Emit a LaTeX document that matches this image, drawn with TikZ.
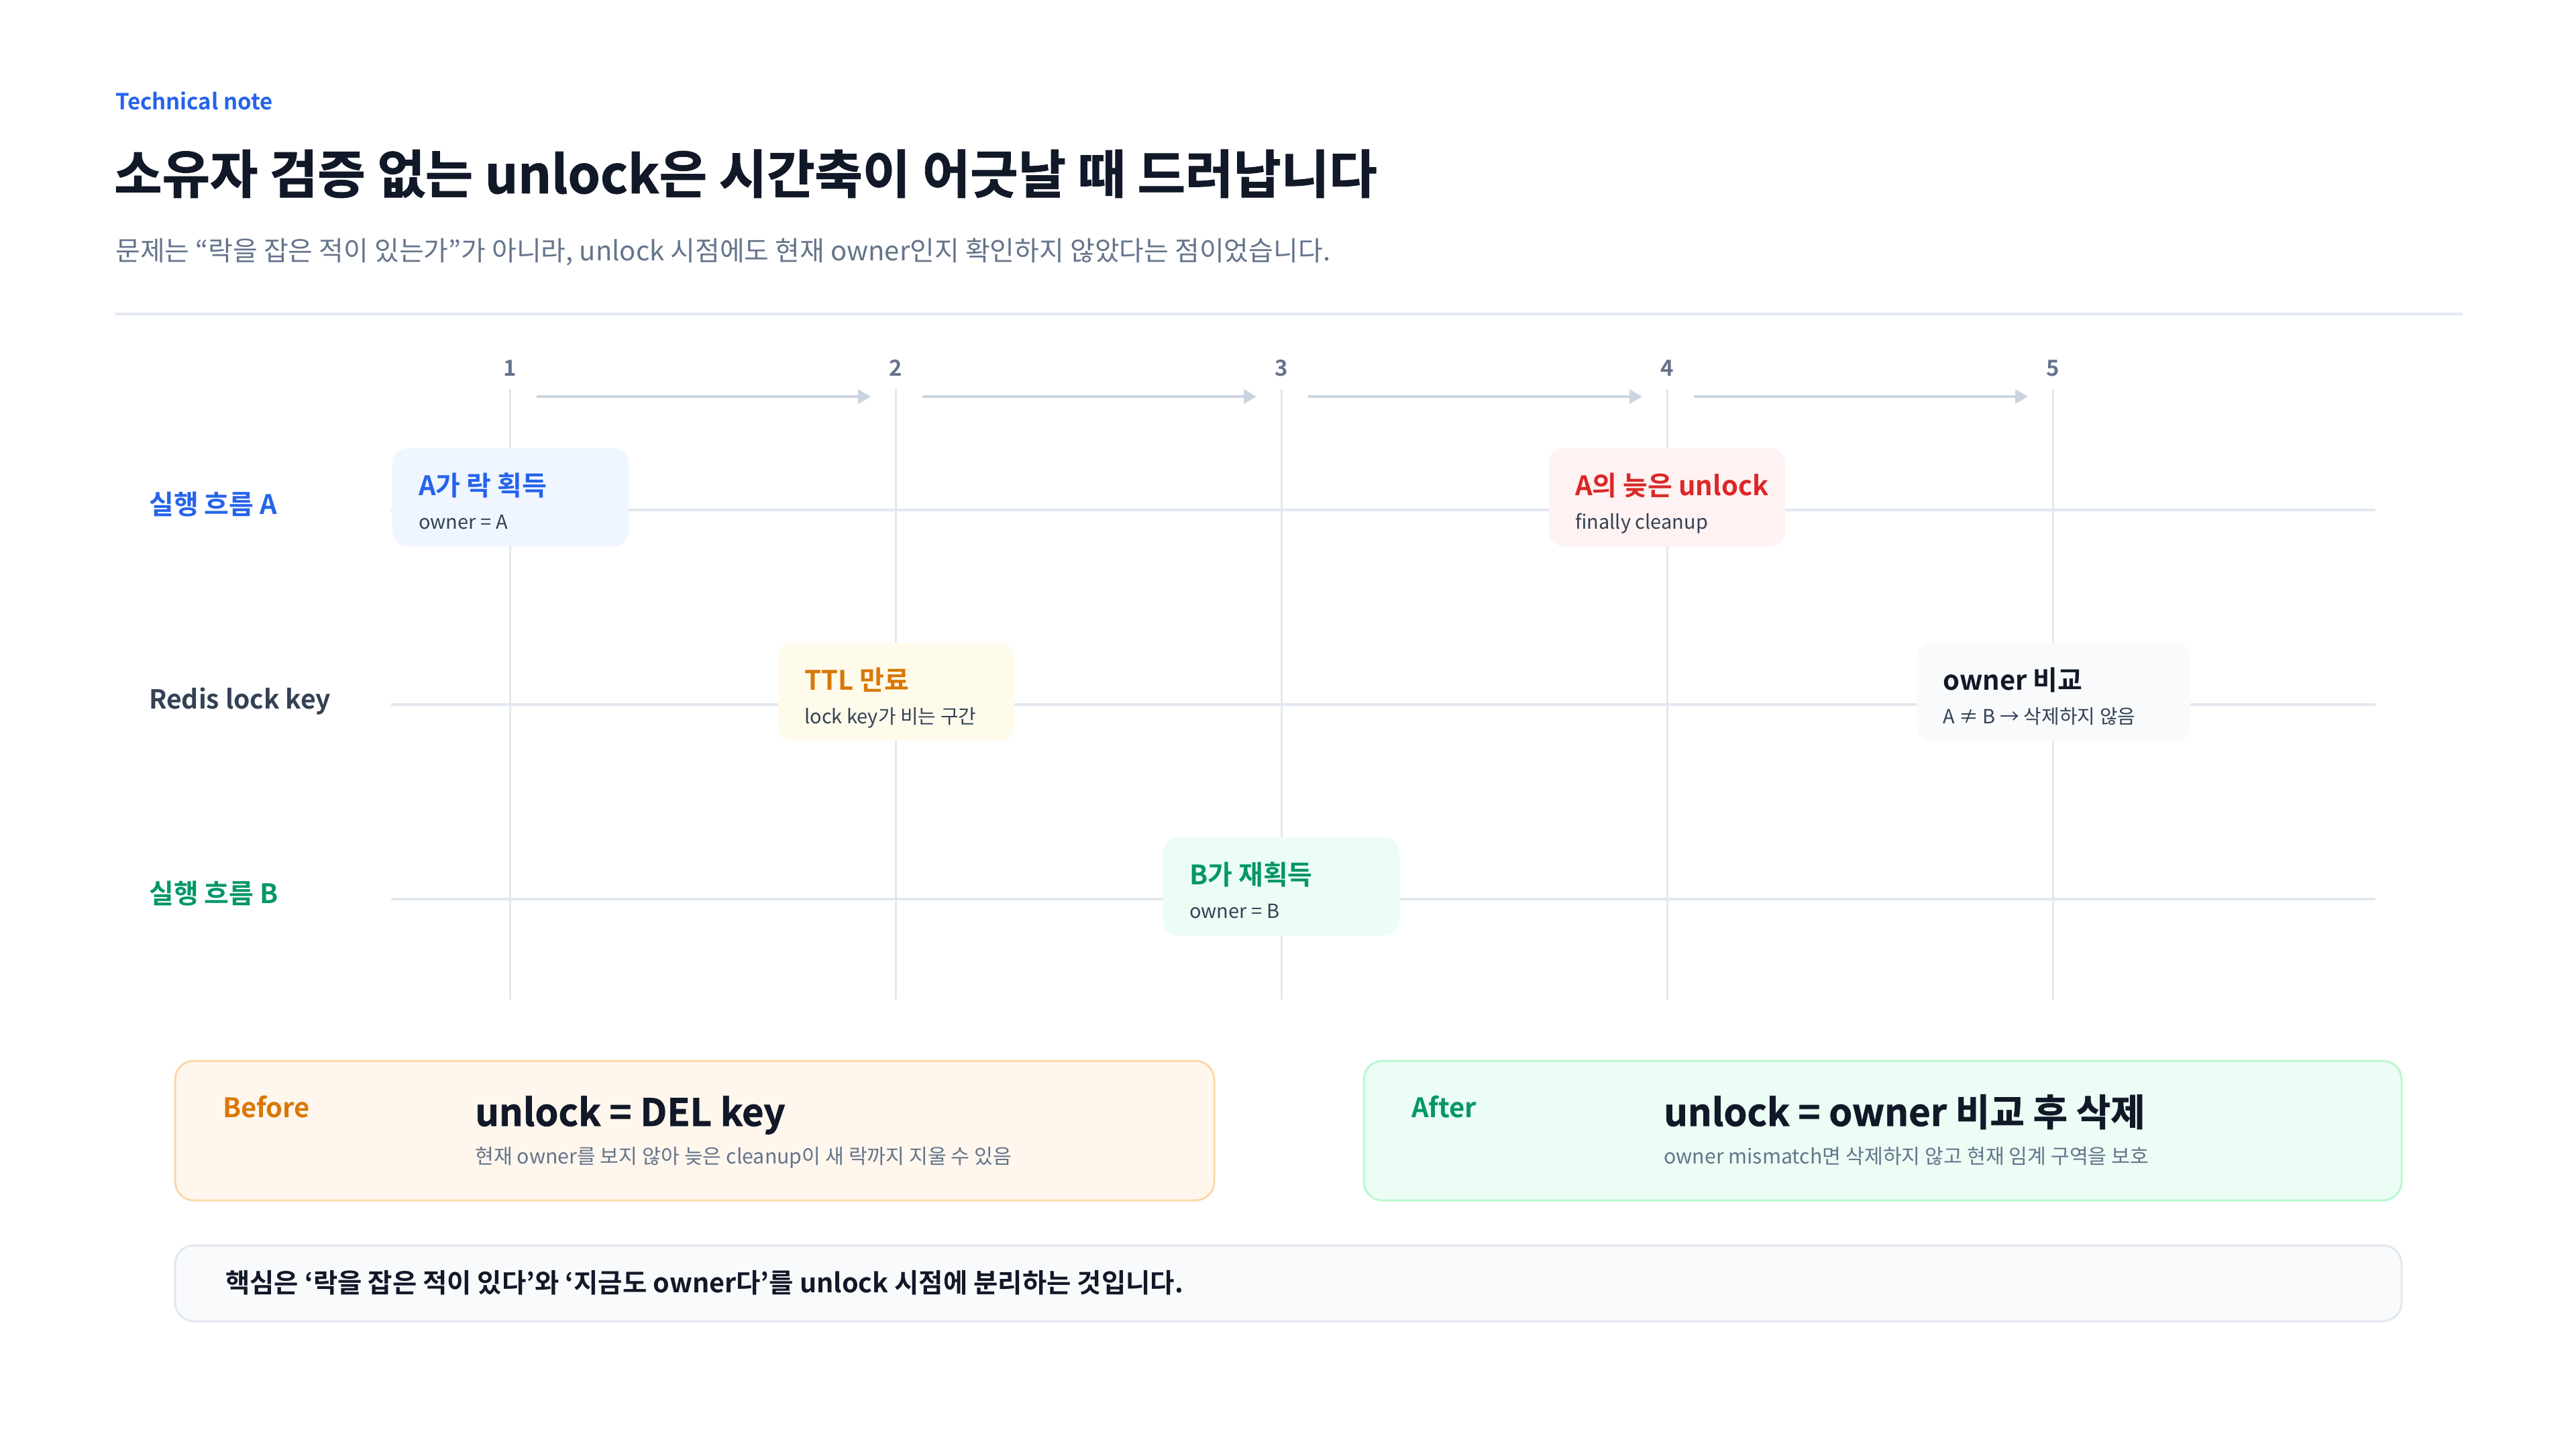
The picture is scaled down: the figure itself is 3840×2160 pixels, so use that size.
\documentclass[tikz,border=0pt]{standalone}
\usepackage{fontspec}
\setmainfont{Noto Sans CJK KR}[BoldFont={Noto Sans CJK KR Bold}]
\newfontfamily\heavyfont{Noto Sans CJK KR Bold}[FakeBold=1.2]
\usetikzlibrary{arrows.meta}
\definecolor{ink}{HTML}{111827}
\definecolor{slatedark}{HTML}{334155}
\definecolor{slatemid}{HTML}{64748B}
\definecolor{gridline}{HTML}{E2E8F0}
\definecolor{arrowgray}{HTML}{CBD5E1}
\definecolor{accblue}{HTML}{2563EB}
\definecolor{accred}{HTML}{DC2626}
\definecolor{accorange}{HTML}{D97706}
\definecolor{accgreen}{HTML}{059669}
\definecolor{fillblue}{HTML}{EFF6FF}
\definecolor{fillred}{HTML}{FEF2F2}
\definecolor{fillyellow}{HTML}{FFFBEB}
\definecolor{fillgreen}{HTML}{ECFDF5}
\definecolor{fillgray}{HTML}{F8FAFC}
\definecolor{fillorange}{HTML}{FFF7ED}
\definecolor{borderorange}{HTML}{FED7AA}
\definecolor{bordergreen}{HTML}{BBF7D0}
\newcommand{\pxs}[1]{\fontsize{#1pt}{#1pt}\selectfont}
\newcommand{\evcard}[8]{%
  \node[cardbox, fill=#5, minimum width=#4pt] (#1) at (#2, #3-19) {};
  \node[txt, text=#6, font=\pxs{40}\bfseries] (#1t) at (#2-#4/2+39, #3-22) {#7};
  \node[txt, text=slatedark, font=\pxs{29}] (#1s) at (#2-#4/2+39, #3+28) {#8};
}
\begin{document}
\begin{tikzpicture}[x=1pt,y=-1pt,
  txt/.style={inner sep=0pt, anchor=base west},
  cardbox/.style={rectangle, rounded corners=22pt, inner sep=0pt, minimum height=146pt},
  gridv/.style={draw=gridline, line width=3pt},
  lane/.style={draw=gridline, line width=4pt},
  timearrow/.style={draw=arrowgray, line width=4.5pt, -{Triangle[length=19pt,width=21pt]}},
  colnum/.style={inner sep=0pt, anchor=base, text=slatemid, font=\pxs{33}\bfseries},
  lanelabel/.style={txt, font=\pxs{40}\bfseries},
  bigbox/.style={rectangle, rounded corners=28pt, line width=3pt, inner sep=0pt},
]
\useasboundingbox[fill=white] (0,0) rectangle (3840,2160);

% header
\node[txt, text=accblue, font=\pxs{33}\bfseries] (kicker) at (172,163) {Technical note};
\node[txt, text=ink, font=\pxs{77.6}\heavyfont] (title) at (170,288) {소유자 검증 없는 unlock은 시간축이 어긋날 때 드러납니다};
\node[txt, text=slatemid, font=\pxs{40}] (subtitle) at (172,388) {문제는 “락을 잡은 적이 있는가”가 아니라, unlock 시점에도 현재 owner인지 확인하지 않았다는 점이었습니다.};
\coordinate (ruleL) at (172,468);
\coordinate (ruleR) at (3671,468);
\draw[draw=gridline, line width=4pt] (ruleL) -- (ruleR);

% grid
\foreach \i/\x in {1/760,2/1335,3/1910,4/2485,5/3060}{
  \node[colnum] (n\i) at (\x,560) {\i};
  \coordinate (vt\i) at (\x,580);
  \coordinate (vb\i) at (\x,1490);
  \coordinate (c\i) at (\x,591);
  \draw[gridv] (vt\i) -- (vb\i);
}
\foreach \name/\y in {laneA/760,laneR/1050,laneB/1340}{
  \coordinate (\name L) at (583,\y);
  \coordinate (\name R) at (3541,\y);
  \draw[lane] (\name L) -- (\name R);
}
\foreach \a/\b in {1/2,2/3,3/4,4/5}{
  \draw[timearrow] ([xshift=40pt]c\a) -- ([xshift=-37pt]c\b);
}

% lane labels
\node[lanelabel, text=accblue] (labA) at (222,766) {실행 흐름 A};
\node[lanelabel, text=slatedark, font=\pxs{39}\bfseries] (labR) at (222,1056) {Redis lock key};
\node[lanelabel, text=accgreen] (labB) at (222,1346) {실행 흐름 B};

% event cards
\evcard{acq}{761}{760}{352}{fillblue}{accblue}{A가 락 획득}{owner = A}
\evcard{ttl}{1336}{1050}{352}{fillyellow}{accorange}{TTL 만료}{lock key가 비는 구간}
\evcard{reacq}{1910}{1340}{352}{fillgreen}{accgreen}{B가 재획득}{owner = B}
\evcard{late}{2485}{760}{352}{fillred}{accred}{A의 늦은 unlock}{finally cleanup}
\evcard{cmp}{3061}{1050}{408}{fillgray}{ink}{owner 비교}{A ≠ B → 삭제하지 않음}

% before / after
\node[bigbox, fill=fillorange, draw=borderorange, minimum width=1549pt, minimum height=208pt] (before) at (1035.5,1685) {};
\node[txt, text=accorange, font=\pxs{40}\bfseries] (beforeL) at (332,1665) {Before};
\node[txt, text=ink, font=\pxs{56}\heavyfont] (beforeT) at (708,1678) {unlock = DEL key};
\node[txt, text=slatemid, font=\pxs{30.3}] (beforeS) at (708,1734) {현재 owner를 보지 않아 늦은 cleanup이 새 락까지 지울 수 있음};

\node[bigbox, fill=fillgreen, draw=bordergreen, minimum width=1547pt, minimum height=208pt] (after) at (2806.5,1685) {};
\node[txt, text=accgreen, font=\pxs{40}\bfseries] (afterL) at (2104,1665) {After};
\node[txt, text=ink, font=\pxs{56}\heavyfont] (afterT) at (2480,1678) {unlock = owner 비교 후 삭제};
\node[txt, text=slatemid, font=\pxs{30.3}] (afterS) at (2480,1734) {owner mismatch면 삭제하지 않고 현재 임계 구역을 보호};

% summary
\node[bigbox, fill=fillgray, draw=gridline, minimum width=3319pt, minimum height=113pt] (summary) at (1920.5,1912.5) {};
\node[txt, text=ink, font=\pxs{39.5}\bfseries] (summaryT) at (336,1926) {핵심은 ‘락을 잡은 적이 있다’와 ‘지금도 owner다’를 unlock 시점에 분리하는 것입니다.};
\end{tikzpicture}
\end{document}
